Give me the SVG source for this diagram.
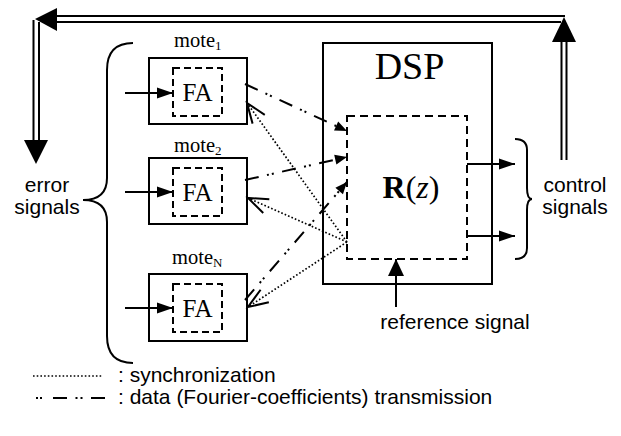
<svg xmlns="http://www.w3.org/2000/svg" width="621" height="436" viewBox="0 0 621 436">
<style>
.box{fill:none;stroke:#000;stroke-width:2}
.dbox{fill:none;stroke:#000;stroke-width:2;stroke-dasharray:7 4}
.ln{fill:none;stroke:#000;stroke-width:2}
.dbl{fill:none;stroke:#000;stroke-width:2}
.data{fill:none;stroke:#000;stroke-width:2;stroke-dasharray:14 8.5 2 3 2 8.5}
.sync{fill:none;stroke:#000;stroke-width:1.7;stroke-dasharray:1.6 2.1}
.serif{font-family:"Liberation Serif","Times New Roman",serif;fill:#000}
.sans{font-family:"Liberation Sans",Arial,sans-serif;font-size:21px;fill:#000}
</style>
<defs>
<marker id="tri" markerUnits="userSpaceOnUse" markerWidth="16" markerHeight="12" refX="16" refY="6" orient="auto" overflow="visible">
<path d="M0,0.5 L16,6 L0,11.5 z" fill="#000" stroke="none"/>
</marker>
<marker id="trib" markerUnits="userSpaceOnUse" markerWidth="17" markerHeight="16" refX="17" refY="8" orient="auto" overflow="visible">
<path d="M0,0 L17,8 L0,16 z" fill="#000" stroke="none"/>
</marker>
<marker id="tris" markerUnits="userSpaceOnUse" markerWidth="12" markerHeight="10" refX="12" refY="5" orient="auto" overflow="visible">
<path d="M0,0 L12,5 L0,10 z" fill="#000" stroke="none"/>
</marker>
<marker id="open" markerUnits="userSpaceOnUse" markerWidth="22" markerHeight="18" refX="21" refY="9" orient="auto" overflow="visible">
<path d="M1,1.5 L21,9 L1,16.5" fill="none" stroke="#000" stroke-width="2" stroke-dasharray="none"/>
</marker>
<clipPath id="refclip"><rect x="370" y="300" width="180" height="33"/></clipPath>
</defs>

<g id="feedback">
<path class="dbl" d="M561.5,160 V40 M566.5,160 V40"/>
<polygon points="564,17 552,42 576,42" fill="#000"/>
<path class="dbl" d="M565,16 H55 M561,22 H55"/>
<polygon points="35,19 57,8 57,31" fill="#000"/>
<path class="dbl" d="M33.5,20 V142 M39,22 V142"/>
<polygon points="24,140 48,140 36,164" fill="#000"/>
</g>

<g id="error-signals">
<path class="ln" d="M133,43 C115,43 107,52 107,70 L107,178 C107,192 100,200 83,200 C100,200 107,208 107,222 L107,336 C107,354 115,363 133,363"/>
<text class="sans" x="47" y="192" text-anchor="middle">error</text>
<text class="sans" x="47" y="214" text-anchor="middle">signals</text>
</g>

<g id="mote1">
<text class="serif" x="174" y="47" font-size="20.5">mote<tspan font-size="13" dy="3">1</tspan></text>
<rect class="box" x="149" y="58" width="98" height="66"/>
<rect class="dbox" x="173" y="68" width="49" height="48"/>
<text class="serif" x="197.5" y="100.5" font-size="25" text-anchor="middle">FA</text>
</g>

<g id="mote2">
<text class="serif" x="174" y="152" font-size="20.5">mote<tspan font-size="13" dy="3">2</tspan></text>
<rect class="box" x="149" y="158" width="98" height="66"/>
<rect class="dbox" x="173" y="168" width="49" height="48"/>
<text class="serif" x="197.5" y="200.5" font-size="25" text-anchor="middle">FA</text>
</g>

<g id="moteN">
<text class="serif" x="172" y="264" font-size="20.5">mote<tspan font-size="13" dy="3">N</tspan></text>
<rect class="box" x="149" y="274" width="98" height="67"/>
<rect class="dbox" x="173" y="284" width="49" height="48"/>
<text class="serif" x="197.5" y="316.5" font-size="25" text-anchor="middle">FA</text>
</g>

<g id="dsp">
<rect class="box" x="323" y="43" width="169" height="241"/>
<text class="serif" x="409.5" y="79" font-size="38" text-anchor="middle">DSP</text>
</g>

<g id="rz">
<rect class="box" x="347" y="116" width="120" height="143" style="stroke-dasharray:8 5"/>
<text class="serif" x="411" y="198" font-size="32" text-anchor="middle"><tspan font-weight="bold">R</tspan>(<tspan font-style="italic">z</tspan>)</text>
</g>

<g id="control-signals">
<path class="ln" d="M515,139 C523,139 527,143 527,150 L527,188 C527,195 529,199 532,199 C529,199 527,203 527,210 L527,248 C527,255 523,259 515,259"/>
<text class="sans" x="575" y="192" text-anchor="middle">control</text>
<text class="sans" x="575" y="214" text-anchor="middle">signals</text>
</g>

<g id="reference-signal">
<text class="sans" x="455" y="329" text-anchor="middle" clip-path="url(#refclip)">reference signal</text>
</g>

<g id="connectors">
<line class="ln" x1="125" y1="93" x2="173" y2="93" marker-end="url(#tri)"/>
<line class="ln" x1="125" y1="192" x2="173" y2="192" marker-end="url(#tri)"/>
<line class="ln" x1="125" y1="308" x2="173" y2="308" marker-end="url(#tri)"/>
<line class="ln" x1="467" y1="164" x2="515" y2="164" marker-end="url(#tri)"/>
<line class="ln" x1="467" y1="236" x2="515" y2="236" marker-end="url(#tri)"/>
<line class="ln" x1="396" y1="307" x2="396" y2="259" marker-end="url(#trib)"/>
<line class="data" x1="245" y1="84" x2="347" y2="131" marker-end="url(#tris)"/>
<line class="data" x1="245" y1="180" x2="347" y2="157" marker-end="url(#tris)"/>
<line class="data" x1="245" y1="300" x2="347" y2="182" marker-end="url(#tris)"/>
<line class="sync" x1="347" y1="242" x2="247" y2="103" marker-end="url(#open)"/>
<line class="sync" x1="347" y1="242" x2="248" y2="198" marker-end="url(#open)"/>
<line class="sync" x1="347" y1="242" x2="248" y2="307" marker-end="url(#open)"/>
</g>

<g id="legend">
<line class="sync" x1="33" y1="376" x2="103" y2="376"/>
<text class="sans" x="118" y="382">: synchronization</text>
<line class="data" x1="53" y1="398" x2="106" y2="398"/>
<line x1="36" y1="398" x2="38" y2="398" stroke="#000" stroke-width="2"/>
<line x1="40" y1="398" x2="42" y2="398" stroke="#000" stroke-width="2"/>
<text class="sans" x="118" y="404">: data (Fourier-coefficients) transmission</text>
</g>
</svg>
